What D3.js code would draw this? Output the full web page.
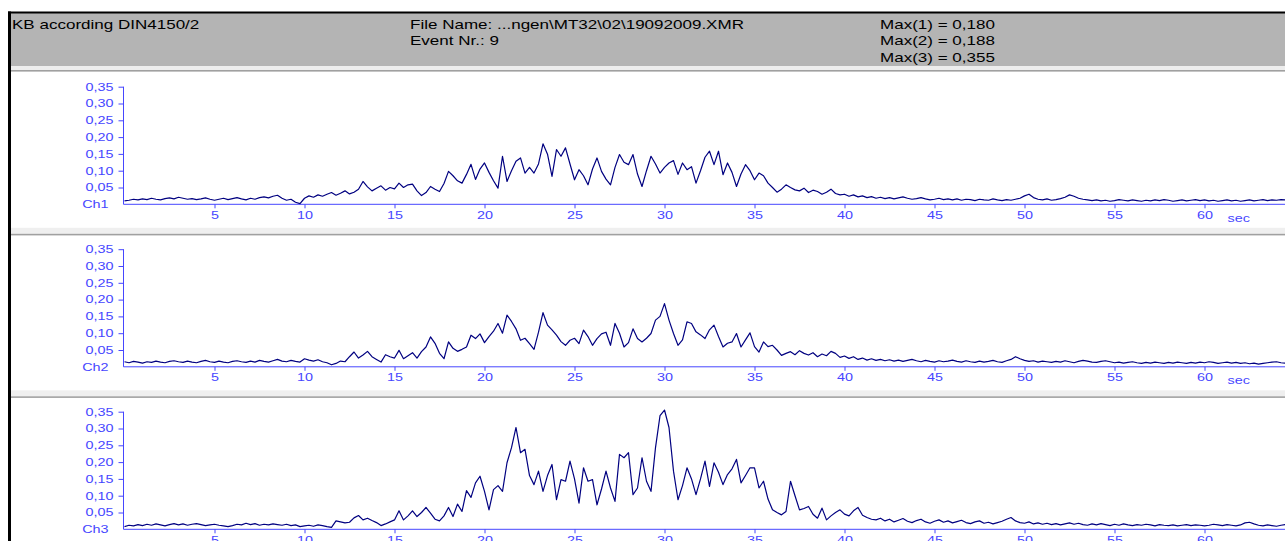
<!DOCTYPE html>
<html><head><meta charset="utf-8">
<script src="https://cdn.jsdelivr.net/npm/d3@7"></script>
<style>body{margin:0;background:#fff;overflow:hidden}svg{display:block}</style>
</head><body>
<script>
// ---------- data ----------
const title = "KB according DIN4150/2";
const fileLines = ["File Name: ...ngen\\MT32\\02\\19092009.XMR", "Event Nr.: 9"];
const maxLines = ["Max(1) = 0,180", "Max(2) = 0,188", "Max(3) = 0,355"];
const channelNames = ["Ch1", "Ch2", "Ch3"];
const xTicks = [5, 10, 15, 20, 25, 30, 35, 40, 45, 50, 55, 60];
const xUnit = "sec";
const yTicks = [0.05, 0.10, 0.15, 0.20, 0.25, 0.30, 0.35];
const sampleStep = 0.25; // seconds between samples
const ch1 = [
0.010,0.012,0.015,0.013, 0.016,0.014,0.018,0.015, 0.013,0.017,0.019,0.016, 0.021,0.018,0.015,0.017,
0.014,0.016,0.019,0.015, 0.012,0.015,0.018,0.014, 0.017,0.020,0.016,0.013, 0.018,0.015,0.020,0.022,
0.019,0.024,0.027,0.018, 0.012,0.015,0.006,0.002, 0.018,0.025,0.021,0.028, 0.024,0.030,0.035,0.027,
0.033,0.040,0.031,0.036, 0.045,0.068,0.052,0.040, 0.048,0.055,0.042,0.050, 0.046,0.063,0.050,0.058,
0.060,0.040,0.026,0.035, 0.053,0.045,0.038,0.062, 0.098,0.085,0.070,0.063, 0.089,0.119,0.074,0.105,
0.123,0.095,0.070,0.048, 0.143,0.068,0.100,0.128, 0.138,0.093,0.110,0.093, 0.120,0.180,0.149,0.083,
0.163,0.143,0.168,0.120, 0.073,0.103,0.085,0.058, 0.105,0.138,0.098,0.075, 0.058,0.110,0.148,0.125,
0.118,0.148,0.090,0.053, 0.100,0.143,0.120,0.093, 0.110,0.123,0.130,0.089, 0.123,0.103,0.112,0.063,
0.100,0.140,0.158,0.118, 0.158,0.088,0.123,0.095, 0.053,0.090,0.118,0.100, 0.073,0.093,0.085,0.063,
0.050,0.036,0.045,0.058, 0.050,0.043,0.040,0.048, 0.035,0.042,0.038,0.030, 0.036,0.045,0.032,0.028,
0.030,0.024,0.028,0.022, 0.025,0.020,0.023,0.018, 0.021,0.017,0.020,0.016, 0.019,0.022,0.018,0.015,
0.017,0.020,0.016,0.013, 0.015,0.018,0.014,0.016, 0.013,0.016,0.012,0.015, 0.014,0.011,0.015,0.013,
0.012,0.016,0.013,0.011, 0.014,0.012,0.015,0.018, 0.025,0.030,0.020,0.015, 0.013,0.016,0.012,0.014,
0.017,0.021,0.028,0.024, 0.018,0.015,0.013,0.011, 0.013,0.010,0.012,0.009, 0.011,0.014,0.012,0.010,
0.013,0.011,0.009,0.012, 0.010,0.013,0.011,0.014, 0.012,0.009,0.011,0.013, 0.010,0.012,0.014,0.011,
0.013,0.010,0.012,0.009, 0.011,0.013,0.010,0.012, 0.009,0.011,0.013,0.010, 0.012,0.014,0.011,0.013,
0.012,0.014,0.013];
const ch2 = [
0.015,0.012,0.016,0.014, 0.011,0.015,0.013,0.017, 0.014,0.012,0.016,0.018, 0.015,0.013,0.017,0.014,
0.012,0.016,0.019,0.015, 0.013,0.017,0.014,0.012, 0.016,0.018,0.015,0.013, 0.017,0.014,0.019,0.016,
0.014,0.018,0.022,0.017, 0.015,0.019,0.016,0.014, 0.024,0.020,0.017,0.021, 0.015,0.012,0.006,0.010,
0.017,0.015,0.030,0.044, 0.026,0.035,0.046,0.030, 0.022,0.014,0.036,0.030, 0.026,0.049,0.024,0.033,
0.042,0.026,0.045,0.059, 0.089,0.070,0.040,0.024, 0.074,0.055,0.046,0.052, 0.059,0.094,0.084,0.098,
0.072,0.090,0.106,0.129, 0.100,0.154,0.135,0.113, 0.079,0.085,0.069,0.052, 0.103,0.161,0.124,0.110,
0.094,0.075,0.064,0.079, 0.085,0.069,0.109,0.090, 0.064,0.084,0.098,0.103, 0.064,0.129,0.100,0.059,
0.072,0.113,0.084,0.074, 0.085,0.099,0.139,0.150, 0.188,0.139,0.099,0.064, 0.080,0.134,0.129,0.104,
0.095,0.084,0.110,0.124, 0.090,0.059,0.070,0.074, 0.099,0.059,0.080,0.101, 0.060,0.044,0.074,0.060,
0.064,0.050,0.034,0.040, 0.045,0.036,0.048,0.040, 0.035,0.042,0.030,0.038, 0.033,0.046,0.040,0.028,
0.032,0.025,0.030,0.022, 0.026,0.020,0.024,0.019, 0.022,0.018,0.021,0.017, 0.020,0.016,0.019,0.022,
0.018,0.015,0.019,0.016, 0.014,0.018,0.015,0.017, 0.020,0.016,0.014,0.018, 0.015,0.013,0.017,0.014,
0.016,0.019,0.015,0.013, 0.018,0.022,0.030,0.024, 0.019,0.016,0.018,0.014, 0.017,0.015,0.013,0.016,
0.014,0.018,0.015,0.012, 0.016,0.019,0.017,0.014, 0.013,0.016,0.018,0.015, 0.012,0.014,0.011,0.013,
0.015,0.012,0.010,0.013, 0.011,0.014,0.012,0.010, 0.013,0.011,0.014,0.012, 0.010,0.013,0.011,0.014,
0.012,0.015,0.013,0.010, 0.012,0.014,0.011,0.013, 0.010,0.012,0.009,0.011, 0.008,0.010,0.012,0.014,
0.015,0.012,0.011];
const ch3 = [
0.008,0.012,0.010,0.014, 0.011,0.015,0.012,0.016, 0.013,0.010,0.014,0.017, 0.013,0.016,0.012,0.015,
0.017,0.014,0.011,0.013, 0.015,0.012,0.010,0.008, 0.011,0.015,0.013,0.018, 0.014,0.017,0.012,0.015,
0.013,0.016,0.014,0.012, 0.015,0.011,0.013,0.008, 0.010,0.012,0.009,0.013, 0.011,0.008,0.006,0.025,
0.022,0.019,0.021,0.034, 0.041,0.028,0.033,0.026, 0.020,0.011,0.016,0.022, 0.028,0.055,0.028,0.040,
0.055,0.038,0.050,0.065, 0.048,0.030,0.025,0.040, 0.065,0.038,0.075,0.053, 0.115,0.095,0.138,0.158,
0.113,0.058,0.118,0.130, 0.113,0.198,0.243,0.303, 0.228,0.238,0.160,0.133, 0.173,0.113,0.160,0.193,
0.088,0.148,0.143,0.203, 0.150,0.078,0.183,0.143, 0.148,0.073,0.120,0.173, 0.123,0.083,0.223,0.213,
0.228,0.103,0.123,0.213, 0.143,0.113,0.243,0.338, 0.355,0.303,0.173,0.088, 0.130,0.183,0.150,0.103,
0.150,0.203,0.128,0.198, 0.170,0.133,0.163,0.180, 0.208,0.138,0.160,0.183, 0.183,0.123,0.143,0.090,
0.058,0.050,0.043,0.053, 0.143,0.100,0.058,0.062, 0.068,0.045,0.033,0.063, 0.028,0.040,0.050,0.058,
0.045,0.040,0.055,0.065, 0.042,0.035,0.030,0.028, 0.033,0.025,0.030,0.022, 0.027,0.032,0.024,0.020,
0.026,0.030,0.022,0.018, 0.024,0.028,0.021,0.025, 0.019,0.023,0.027,0.020, 0.017,0.022,0.025,0.018,
0.021,0.016,0.020,0.024, 0.030,0.035,0.025,0.020, 0.018,0.022,0.016,0.019, 0.015,0.018,0.014,0.017,
0.013,0.016,0.019,0.015, 0.018,0.014,0.012,0.016, 0.013,0.017,0.014,0.011, 0.015,0.012,0.016,0.013,
0.011,0.014,0.012,0.015, 0.013,0.010,0.014,0.012, 0.011,0.013,0.010,0.012, 0.014,0.011,0.013,0.012,
0.010,0.012,0.015,0.013, 0.011,0.014,0.012,0.010, 0.013,0.019,0.021,0.016, 0.012,0.010,0.013,0.011,
0.009,0.012,0.014];
const channels = [ch1, ch2, ch3];

// ---------- layout ----------
const W = 1285, H = 541;
const AXIS = "#4646ff", LINE = "#000080", FONT = "'Liberation Sans', Arial, sans-serif";
const TFS = 10.5, SX = 1.37;   // tick label size and horizontal stretch of the original screenshot
const HFS = 12, HSX = 1.42;    // header text
const x0 = 124.5, pxPerSec = 18;
const panelTop0 = 86.7, panelStep = 162.5, panelH = 117.6;

const svg = d3.select("body").append("svg").attr("width", W).attr("height", H);

const x = d3.scaleLinear().domain([0, (W - x0) / pxPerSec]).range([x0, W]);

// header
svg.append("rect").attr("x", 10).attr("y", 13).attr("width", W - 10).attr("height", 53).attr("fill", "#b4b4b4");
svg.append("rect").attr("x", 10).attr("y", 66).attr("width", W - 10).attr("height", 4).attr("fill", "#ededed");
svg.append("rect").attr("x", 10).attr("y", 70).attr("width", W - 10).attr("height", 1.6).attr("fill", "#a0a0a0");
svg.append("rect").attr("x", 8).attr("y", 11.5).attr("width", W - 8).attr("height", 2).attr("fill", "#000");

function htext(str, tx, ty) {
  svg.append("text").attr("transform", `translate(${tx},${ty}) scale(${HSX},1)`)
    .attr("font-family", FONT).attr("font-size", HFS).attr("fill", "#000").text(str);
}
htext(title, 12, 28.5);
fileLines.forEach((s, i) => htext(s, 410, 28.5 + i * 16.5));
maxLines.forEach((s, i) => htext(s, 880, 28.5 + i * 16.5));

const fmt = v => d3.format(".2f")(v).replace(".", ",");

channels.forEach((data, ci) => {
  const top = panelTop0 + ci * panelStep;
  const zero = top + panelH;
  const y = d3.scaleLinear().domain([0, 0.35]).range([zero, top]);
  const g = svg.append("g");

  // separator below panel
  g.append("rect").attr("x", 10).attr("y", zero + 23.5).attr("width", W - 10).attr("height", 6).attr("fill", "#efefef");
  g.append("rect").attr("x", 10).attr("y", zero + 29.5).attr("width", W - 10).attr("height", 1.6).attr("fill", "#a0a0a0");

  // y axis
  const ya = g.append("g").attr("transform", `translate(${x0 - 1},0)`)
    .call(d3.axisLeft(y).tickValues(yTicks).tickSize(5).tickSizeOuter(0).tickFormat(fmt));
  ya.select(".domain").attr("stroke", AXIS).attr("d", `M0,${top}V${zero}`);
  ya.selectAll(".tick line").attr("stroke", AXIS);
  ya.selectAll(".tick text").attr("font-family", FONT).attr("font-size", TFS).attr("fill", AXIS)
    .attr("x", -10 / SX).attr("transform", `scale(${SX},1)`);
  // channel label at zero
  g.append("text").attr("transform", `translate(${x0 - 16},${zero + 4}) scale(${SX},1)`)
    .attr("text-anchor", "end").attr("font-family", FONT).attr("font-size", TFS).attr("fill", AXIS)
    .text(channelNames[ci]);

  // x axis
  const xa = g.append("g").attr("transform", `translate(0,${zero})`)
    .call(d3.axisBottom(x).tickValues(xTicks).tickSize(4).tickSizeOuter(0).tickFormat(d3.format("d")));
  xa.select(".domain").attr("stroke", AXIS).attr("d", `M${x0 - 1},0H${W}`);
  xa.selectAll(".tick line").attr("stroke", AXIS);
  xa.selectAll(".tick text").attr("font-family", FONT).attr("font-size", TFS).attr("fill", AXIS)
    .attr("y", 7).attr("transform", `scale(${SX},1)`);
  xa.append("text").attr("transform", `translate(${x(61.9)},${7 + 10.5}) scale(${SX},1)`)
    .attr("text-anchor", "middle").attr("font-family", FONT).attr("font-size", TFS).attr("fill", AXIS).text(xUnit);

  // series
  const line = d3.line().x((d, i) => x(i * sampleStep)).y(d => y(d));
  g.append("path").datum(data).attr("d", line).attr("fill", "none")
    .attr("stroke", LINE).attr("stroke-width", 1.2).attr("stroke-linejoin", "round");
});

// left black frame
svg.append("rect").attr("x", 8).attr("y", 11.5).attr("width", 3).attr("height", H - 11.5).attr("fill", "#000");
</script>
</body></html>
